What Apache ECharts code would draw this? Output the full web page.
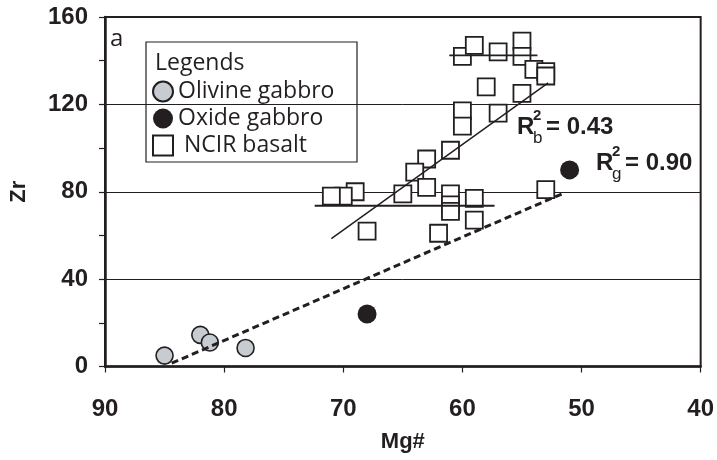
<!DOCTYPE html>
<html><head><meta charset="utf-8">
<script src="https://cdn.jsdelivr.net/npm/echarts@6/dist/echarts.min.js"></script>
<style>html,body{margin:0;padding:0;background:#fff}#c{width:717px;height:460px}</style>
</head><body><div id="c"></div>
<script>
// ---- data ----
const xTicks = [90, 80, 70, 60, 50, 40];
const yTicks = [0, 40, 80, 120, 160];
const olivineGabbro = [[85, 5], [82, 14.5], [81.2, 11], [78.2, 8.5]];
const oxideGabbro = [[68, 24], [51, 90]];
const ncirBasalt = [
  [60, 142], [59, 147], [57, 144], [55, 149], [55, 142], [54, 136], [53, 135], [53, 133],
  [58, 128], [55, 125], [60, 117], [60, 110], [57, 116], [61, 99], [63, 95], [64, 89],
  [63, 82], [65, 79], [69, 80], [70, 78], [71, 78], [61, 79], [61, 74], [61, 71],
  [59, 77], [59, 67], [53, 81], [68, 62], [62, 61]
];
const basaltFit = [[71, 58.5], [52.8, 129.8]];
const gabbroFit = [[84.4, 1.5], [51.4, 79.6]];
const basaltLowMean = [[72.4, 73.6], [57.3, 73.6]];
const basaltHighMean = [[61.1, 142.4], [53.7, 142.4]];
const seriesNames = ['Olivine gabbro', 'Oxide gabbro', 'NCIR basalt'];

const INK = '#231f20';
const numFont = 'Liberation Sans, Arial, sans-serif';
const txtFont = 'Open Sans, Noto Sans, sans-serif';

const chart = echarts.init(document.getElementById('c'), null, {renderer: 'canvas'});
function lineSeries(data, w, type) {
  return {type: 'line', data: data, symbol: 'none', silent: true, z: 5,
    lineStyle: {color: INK, width: w, type: type || 'solid'}, legendHoverLink: false};
}
chart.setOption({
  animation: false,
  backgroundColor: '#fff',
  grid: {left: 96.5, right: 13.5, top: 17, bottom: 93.5, show: true, borderColor: INK, borderWidth: 2, backgroundColor: 'transparent'},
  xAxis: {
    type: 'value', inverse: true, min: xTicks[xTicks.length - 1], max: xTicks[0], interval: 10,
    name: 'Mg#', nameLocation: 'middle', nameGap: 64,
    nameTextStyle: {fontFamily: numFont, fontWeight: 'bold', fontSize: 22, color: INK},
    axisLine: {lineStyle: {color: INK, width: 2.5}},
    axisTick: {inside: false, length: 6, lineStyle: {color: INK, width: 1.2}},
    axisLabel: {margin: 31, fontFamily: numFont, fontWeight: 'bold', fontSize: 24, color: INK},
    splitLine: {show: false}
  },
  yAxis: {
    type: 'value', min: yTicks[0], max: yTicks[yTicks.length - 1], interval: 40,
    name: 'Zr', nameLocation: 'middle', nameGap: 75, nameRotate: 90,
    nameTextStyle: {fontFamily: numFont, fontWeight: 'bold', fontSize: 22, color: INK},
    axisLine: {lineStyle: {color: INK, width: 2.5}},
    axisTick: {inside: false, length: 6, lineStyle: {color: INK, width: 1.2}},
    minorTick: {show: true, splitNumber: 2, length: 6, lineStyle: {color: INK, width: 1.2}},
    axisLabel: {margin: 17, fontFamily: numFont, fontWeight: 'bold', fontSize: 24, color: INK},
    splitLine: {show: true, lineStyle: {color: INK, width: 1}}
  },
  legend: {
    data: seriesNames, orient: 'vertical', left: 147, top: 75, itemGap: 4, padding: 5,
    itemWidth: 20, itemHeight: 20, selectedMode: false,
    formatter: n => n === 'NCIR basalt' ? ' ' + n : n,
    textStyle: {fontFamily: txtFont, fontSize: 23, color: INK}
  },
  graphic: [
    {type: 'rect', shape: {x: 146, y: 42, width: 211, height: 120}, style: {fill: 'none', stroke: INK, lineWidth: 1.2}, z: 10},
    {type: 'text', x: 155, y: 63, style: {text: 'Legends', font: '23px ' + txtFont, fill: INK, textVerticalAlign: 'middle'}, z: 10},
    {type: 'text', x: 110, y: 39, style: {text: 'a', font: '24px ' + txtFont, fill: INK, textVerticalAlign: 'middle'}, z: 10},
    {type: 'text', x: 517, y: 127, style: {text: 'R', font: 'bold 24px ' + numFont, fill: INK, textVerticalAlign: 'middle'}, z: 10},
    {type: 'text', x: 533, y: 116, style: {text: '2', font: 'bold 15px ' + numFont, fill: INK, textVerticalAlign: 'middle'}, z: 10},
    {type: 'text', x: 533, y: 138, style: {text: 'b', font: '17px ' + numFont, fill: INK, textVerticalAlign: 'middle'}, z: 10},
    {type: 'text', x: 546, y: 127, style: {text: '= 0.43', font: 'bold 24px ' + numFont, fill: INK, textVerticalAlign: 'middle'}, z: 10},
    {type: 'text', x: 596, y: 163, style: {text: 'R', font: 'bold 24px ' + numFont, fill: INK, textVerticalAlign: 'middle'}, z: 10},
    {type: 'text', x: 612, y: 152, style: {text: '2', font: 'bold 15px ' + numFont, fill: INK, textVerticalAlign: 'middle'}, z: 10},
    {type: 'text', x: 612, y: 174, style: {text: 'g', font: '17px ' + numFont, fill: INK, textVerticalAlign: 'middle'}, z: 10},
    {type: 'text', x: 625, y: 163, style: {text: '= 0.90', font: 'bold 24px ' + numFont, fill: INK, textVerticalAlign: 'middle'}, z: 10}
  ],
  series: [
    {name: seriesNames[0], type: 'scatter', data: olivineGabbro, symbol: 'circle', symbolSize: 17, z: 3,
      itemStyle: {color: '#c7cbd2', borderColor: INK, borderWidth: 1.6, opacity: 1}},
    {name: seriesNames[1], type: 'scatter', data: oxideGabbro, symbol: 'circle', symbolSize: 19, z: 3,
      itemStyle: {color: INK, borderColor: INK, borderWidth: 0, opacity: 1}},
    {name: seriesNames[2], type: 'scatter', data: ncirBasalt, symbol: 'rect', symbolSize: 17, z: 3,
      itemStyle: {color: '#fff', borderColor: INK, borderWidth: 1.8, opacity: 1}},
    lineSeries(basaltFit, 1.5),
    lineSeries(basaltLowMean, 1.8),
    lineSeries(basaltHighMean, 1.8),
    lineSeries(gabbroFit, 3, [7, 4])
  ]
});
</script></body></html>
